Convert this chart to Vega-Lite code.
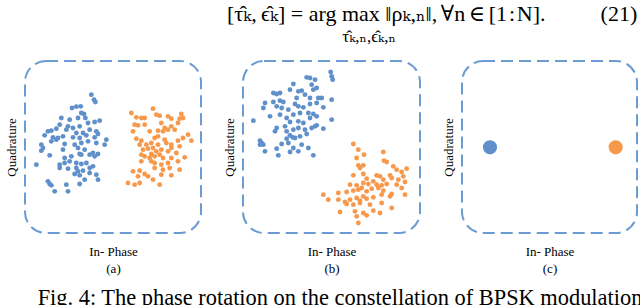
{
  "$schema": "https://vega.github.io/schema/vega-lite/v6.json",
  "padding": {"left": 4, "top": 3, "right": 0, "bottom": 0},
  "background": "#ffffff",
  "config": {
    "font": "Liberation Serif",
    "view": {"stroke": "#6a9bd3", "strokeWidth": 2, "strokeDash": [12, 6], "cornerRadius": 21, "fill": null},
    "axis": {"domain": false, "ticks": false, "labels": false, "grid": false, "titleFont": "Liberation Serif", "titleFontSize": 13, "titleFontWeight": "normal", "titleColor": "#000000", "titleLineHeight": 17},
    "axisX": {"titlePadding": 12},
    "axisY": {"titlePadding": 7},
    "concat": {"spacing": 20}
  },
  "title": {
    "text": "[τ\u0302\u2096,\u2009ϵ\u0302\u2096] = arg max \u2016ρ\u2096,\u2099\u2016,\u2006\u2200n\u2006\u2208\u2006[1\u200a:\u200aN].\u2003\u2003\u2002(21)",
    "subtitle": "\u200b\u2003\u2003\u2003\u2003\u2003\u2003\u2002\u2009\u200aτ\u0302\u2096,\u2099,ϵ\u0302\u2096,\u2099",
    "anchor": "start",
    "frame": "group",
    "dx": 202,
    "offset": 14,
    "font": "Liberation Serif, DejaVu Serif",
    "fontSize": 22,
    "fontWeight": "normal",
    "color": "#000000",
    "subtitleFont": "Liberation Serif, DejaVu Serif",
    "subtitleFontSize": 17,
    "subtitleColor": "#000000",
    "subtitlePadding": 3
  },
  "datasets": {
    "a": [
      {"sym":"-1","i":280,"q":460},{"sym":"-1","i":288,"q":445},{"sym":"-1","i":292,"q":438},
      {"sym":"-1","i":222,"q":420},{"sym":"-1","i":235,"q":424},{"sym":"-1","i":248,"q":425},
      {"sym":"-1","i":250,"q":405},{"sym":"-1","i":258,"q":402},{"sym":"-1","i":262,"q":390},
      {"sym":"-1","i":190,"q":390},{"sym":"-1","i":215,"q":385},{"sym":"-1","i":240,"q":390},
      {"sym":"-1","i":185,"q":370},{"sym":"-1","i":210,"q":365},{"sym":"-1","i":225,"q":360},{"sym":"-1","i":245,"q":365},{"sym":"-1","i":270,"q":375},{"sym":"-1","i":290,"q":378},{"sym":"-1","i":305,"q":382},
      {"sym":"-1","i":150,"q":350},{"sym":"-1","i":160,"q":352},{"sym":"-1","i":175,"q":358},{"sym":"-1","i":205,"q":355},{"sym":"-1","i":235,"q":345},{"sym":"-1","i":255,"q":345},{"sym":"-1","i":275,"q":355},{"sym":"-1","i":295,"q":350},{"sym":"-1","i":300,"q":342},
      {"sym":"-1","i":140,"q":338},{"sym":"-1","i":165,"q":332},{"sym":"-1","i":180,"q":330},{"sym":"-1","i":195,"q":335},{"sym":"-1","i":225,"q":332},{"sym":"-1","i":245,"q":330},{"sym":"-1","i":265,"q":338},{"sym":"-1","i":290,"q":332},{"sym":"-1","i":325,"q":325},
      {"sym":"-1","i":130,"q":310},{"sym":"-1","i":135,"q":300},{"sym":"-1","i":160,"q":320},{"sym":"-1","i":175,"q":325},{"sym":"-1","i":200,"q":312},{"sym":"-1","i":230,"q":310},{"sym":"-1","i":250,"q":315},{"sym":"-1","i":270,"q":320},{"sym":"-1","i":295,"q":315},{"sym":"-1","i":320,"q":310},
      {"sym":"-1","i":130,"q":292},{"sym":"-1","i":195,"q":295},{"sym":"-1","i":240,"q":300},{"sym":"-1","i":260,"q":295},{"sym":"-1","i":285,"q":285},{"sym":"-1","i":300,"q":282},{"sym":"-1","i":245,"q":282},
      {"sym":"-1","i":155,"q":278},{"sym":"-1","i":200,"q":270},{"sym":"-1","i":220,"q":275},{"sym":"-1","i":250,"q":280},{"sym":"-1","i":275,"q":280},{"sym":"-1","i":290,"q":275},
      {"sym":"-1","i":115,"q":250},{"sym":"-1","i":185,"q":250},{"sym":"-1","i":200,"q":255},{"sym":"-1","i":215,"q":260},{"sym":"-1","i":235,"q":255},{"sym":"-1","i":250,"q":252},{"sym":"-1","i":265,"q":255},{"sym":"-1","i":285,"q":245},
      {"sym":"-1","i":185,"q":240},{"sym":"-1","i":210,"q":238},{"sym":"-1","i":235,"q":240},{"sym":"-1","i":240,"q":230},{"sym":"-1","i":255,"q":232},{"sym":"-1","i":275,"q":240},
      {"sym":"-1","i":230,"q":222},{"sym":"-1","i":245,"q":218},{"sym":"-1","i":275,"q":225},{"sym":"-1","i":295,"q":220},
      {"sym":"-1","i":150,"q":200},{"sym":"-1","i":155,"q":192},{"sym":"-1","i":160,"q":188},{"sym":"-1","i":205,"q":190},{"sym":"-1","i":245,"q":192},{"sym":"-1","i":260,"q":205},{"sym":"-1","i":300,"q":205},
      {"sym":"-1","i":170,"q":170},{"sym":"-1","i":210,"q":170},
      {"sym":"+1","i":400,"q":405},{"sym":"+1","i":415,"q":392},{"sym":"+1","i":430,"q":390},{"sym":"+1","i":440,"q":390},{"sym":"+1","i":465,"q":418},{"sym":"+1","i":475,"q":400},{"sym":"+1","i":485,"q":397},{"sym":"+1","i":510,"q":395},{"sym":"+1","i":520,"q":388},{"sym":"+1","i":545,"q":388},{"sym":"+1","i":550,"q":402},{"sym":"+1","i":555,"q":390},
      {"sym":"+1","i":410,"q":370},{"sym":"+1","i":420,"q":368},{"sym":"+1","i":440,"q":370},{"sym":"+1","i":490,"q":375},{"sym":"+1","i":500,"q":360},{"sym":"+1","i":520,"q":365},{"sym":"+1","i":540,"q":375},
      {"sym":"+1","i":405,"q":350},{"sym":"+1","i":455,"q":350},{"sym":"+1","i":480,"q":352},{"sym":"+1","i":495,"q":350},{"sym":"+1","i":510,"q":355},{"sym":"+1","i":530,"q":355},{"sym":"+1","i":570,"q":340},
      {"sym":"+1","i":415,"q":328},{"sym":"+1","i":430,"q":322},{"sym":"+1","i":470,"q":330},{"sym":"+1","i":480,"q":335},{"sym":"+1","i":500,"q":325},{"sym":"+1","i":540,"q":322},{"sym":"+1","i":555,"q":330},{"sym":"+1","i":580,"q":322},
      {"sym":"+1","i":425,"q":310},{"sym":"+1","i":445,"q":310},{"sym":"+1","i":460,"q":315},{"sym":"+1","i":480,"q":310},{"sym":"+1","i":505,"q":315},{"sym":"+1","i":520,"q":310},{"sym":"+1","i":545,"q":305},
      {"sym":"+1","i":435,"q":295},{"sym":"+1","i":450,"q":298},{"sym":"+1","i":465,"q":300},{"sym":"+1","i":475,"q":290},{"sym":"+1","i":490,"q":295},{"sym":"+1","i":510,"q":290},{"sym":"+1","i":520,"q":300},{"sym":"+1","i":535,"q":285},
      {"sym":"+1","i":430,"q":280},{"sym":"+1","i":440,"q":275},{"sym":"+1","i":455,"q":270},{"sym":"+1","i":460,"q":282},{"sym":"+1","i":470,"q":275},{"sym":"+1","i":485,"q":280},{"sym":"+1","i":495,"q":270},{"sym":"+1","i":520,"q":270},{"sym":"+1","i":560,"q":272},
      {"sym":"+1","i":430,"q":260},{"sym":"+1","i":460,"q":260},{"sym":"+1","i":470,"q":255},{"sym":"+1","i":490,"q":250},{"sym":"+1","i":510,"q":255},{"sym":"+1","i":540,"q":260},
      {"sym":"+1","i":405,"q":230},{"sym":"+1","i":425,"q":232},{"sym":"+1","i":440,"q":222},{"sym":"+1","i":470,"q":240},{"sym":"+1","i":495,"q":235},{"sym":"+1","i":515,"q":240},{"sym":"+1","i":545,"q":235},
      {"sym":"+1","i":420,"q":215},{"sym":"+1","i":450,"q":215},{"sym":"+1","i":490,"q":220},{"sym":"+1","i":520,"q":218},
      {"sym":"+1","i":390,"q":195},{"sym":"+1","i":410,"q":190},{"sym":"+1","i":425,"q":195},{"sym":"+1","i":465,"q":205},{"sym":"+1","i":485,"q":190}
    ],
    "b": [
      {"sym":"-1","i":362,"q":528},{"sym":"-1","i":365,"q":515},{"sym":"-1","i":368,"q":505},
      {"sym":"-1","i":290,"q":512},{"sym":"-1","i":300,"q":510},{"sym":"-1","i":315,"q":505},
      {"sym":"-1","i":250,"q":492},{"sym":"-1","i":305,"q":490},{"sym":"-1","i":310,"q":475},{"sym":"-1","i":320,"q":480},
      {"sym":"-1","i":190,"q":465},{"sym":"-1","i":200,"q":462},{"sym":"-1","i":210,"q":465},{"sym":"-1","i":240,"q":475},{"sym":"-1","i":265,"q":470},{"sym":"-1","i":275,"q":472},
      {"sym":"-1","i":165,"q":435},{"sym":"-1","i":190,"q":438},{"sym":"-1","i":210,"q":442},{"sym":"-1","i":220,"q":438},{"sym":"-1","i":260,"q":450},{"sym":"-1","i":285,"q":460},{"sym":"-1","i":300,"q":450},{"sym":"-1","i":325,"q":450},{"sym":"-1","i":335,"q":450},{"sym":"-1","i":365,"q":445},
      {"sym":"-1","i":160,"q":420},{"sym":"-1","i":200,"q":425},{"sym":"-1","i":215,"q":420},{"sym":"-1","i":235,"q":415},{"sym":"-1","i":255,"q":432},{"sym":"-1","i":265,"q":425},{"sym":"-1","i":280,"q":422},{"sym":"-1","i":300,"q":432},{"sym":"-1","i":320,"q":435},{"sym":"-1","i":340,"q":422},
      {"sym":"-1","i":180,"q":395},{"sym":"-1","i":210,"q":400},{"sym":"-1","i":230,"q":390},{"sym":"-1","i":250,"q":400},{"sym":"-1","i":270,"q":405},{"sym":"-1","i":295,"q":405},{"sym":"-1","i":310,"q":402},{"sym":"-1","i":320,"q":395},
      {"sym":"-1","i":130,"q":382},{"sym":"-1","i":200,"q":360},{"sym":"-1","i":225,"q":365},{"sym":"-1","i":240,"q":378},{"sym":"-1","i":265,"q":380},{"sym":"-1","i":280,"q":375},{"sym":"-1","i":300,"q":390},{"sym":"-1","i":320,"q":368},{"sym":"-1","i":365,"q":385},
      {"sym":"-1","i":195,"q":350},{"sym":"-1","i":230,"q":350},{"sym":"-1","i":250,"q":355},{"sym":"-1","i":265,"q":360},{"sym":"-1","i":285,"q":355},{"sym":"-1","i":305,"q":360},{"sym":"-1","i":315,"q":365},{"sym":"-1","i":340,"q":358},
      {"sym":"-1","i":240,"q":338},{"sym":"-1","i":248,"q":332},{"sym":"-1","i":255,"q":330},{"sym":"-1","i":230,"q":328},{"sym":"-1","i":270,"q":335},{"sym":"-1","i":290,"q":342},
      {"sym":"-1","i":150,"q":322},{"sym":"-1","i":155,"q":315},{"sym":"-1","i":150,"q":310},{"sym":"-1","i":160,"q":310},{"sym":"-1","i":215,"q":312},{"sym":"-1","i":235,"q":315},{"sym":"-1","i":250,"q":300},{"sym":"-1","i":275,"q":310},
      {"sym":"-1","i":165,"q":290},{"sym":"-1","i":200,"q":298},{"sym":"-1","i":240,"q":288},{"sym":"-1","i":265,"q":290},{"sym":"-1","i":295,"q":300},
      {"sym":"-1","i":205,"q":278},{"sym":"-1","i":310,"q":278},
      {"sym":"+1","i":430,"q":312},{"sym":"+1","i":445,"q":295},{"sym":"+1","i":462,"q":280},{"sym":"+1","i":440,"q":270},{"sym":"+1","i":520,"q":288},{"sym":"+1","i":522,"q":262},{"sym":"+1","i":530,"q":258},
      {"sym":"+1","i":445,"q":248},{"sym":"+1","i":450,"q":240},{"sym":"+1","i":460,"q":248},
      {"sym":"+1","i":430,"q":218},{"sym":"+1","i":460,"q":222},{"sym":"+1","i":500,"q":218},{"sym":"+1","i":510,"q":215},{"sym":"+1","i":540,"q":218},{"sym":"+1","i":550,"q":245},{"sym":"+1","i":560,"q":235},{"sym":"+1","i":575,"q":228},{"sym":"+1","i":590,"q":238},{"sym":"+1","i":580,"q":215},
      {"sym":"+1","i":470,"q":208},{"sym":"+1","i":520,"q":205},{"sym":"+1","i":545,"q":210},{"sym":"+1","i":565,"q":205},{"sym":"+1","i":585,"q":198},
      {"sym":"+1","i":420,"q":190},{"sym":"+1","i":440,"q":188},{"sym":"+1","i":460,"q":195},{"sym":"+1","i":475,"q":192},{"sym":"+1","i":490,"q":200},{"sym":"+1","i":500,"q":190},{"sym":"+1","i":515,"q":188},{"sym":"+1","i":530,"q":192},{"sym":"+1","i":560,"q":190},{"sym":"+1","i":575,"q":180},
      {"sym":"+1","i":385,"q":165},{"sym":"+1","i":410,"q":168},{"sym":"+1","i":430,"q":172},{"sym":"+1","i":445,"q":175},{"sym":"+1","i":455,"q":180},{"sym":"+1","i":470,"q":170},{"sym":"+1","i":485,"q":178},{"sym":"+1","i":505,"q":180},{"sym":"+1","i":520,"q":172},{"sym":"+1","i":545,"q":162},{"sym":"+1","i":585,"q":160},
      {"sym":"+1","i":340,"q":160},{"sym":"+1","i":355,"q":145},{"sym":"+1","i":385,"q":145},{"sym":"+1","i":405,"q":138},{"sym":"+1","i":420,"q":145},{"sym":"+1","i":440,"q":150},{"sym":"+1","i":450,"q":142},{"sym":"+1","i":460,"q":155},{"sym":"+1","i":470,"q":148},{"sym":"+1","i":490,"q":152},{"sym":"+1","i":515,"q":160},{"sym":"+1","i":540,"q":155},
      {"sym":"+1","i":410,"q":132},{"sym":"+1","i":430,"q":130},{"sym":"+1","i":450,"q":135},{"sym":"+1","i":480,"q":130},{"sym":"+1","i":515,"q":135},{"sym":"+1","i":545,"q":120},
      {"sym":"+1","i":390,"q":108},{"sym":"+1","i":435,"q":110},{"sym":"+1","i":460,"q":105},{"sym":"+1","i":490,"q":112},{"sym":"+1","i":510,"q":105},
      {"sym":"+1","i":440,"q":95},{"sym":"+1","i":470,"q":98},{"sym":"+1","i":445,"q":75}
    ],
    "c": [
      {"sym":"-1","i":198,"q":302},
      {"sym":"+1","i":575,"q":302}
    ]
  },
  "vconcat": [
    {
      "hconcat": [
        {
          "width": 176, "height": 172,
          "data": {"name": "a"},
          "mark": {"type": "circle", "size": 24, "opacity": 1},
          "encoding": {
            "x": {"field": "i", "type": "quantitative", "scale": {"domain": [81, 609], "nice": false, "zero": false}, "axis": {"title": ["In- Phase", "(a)"]}},
            "y": {"field": "q", "type": "quantitative", "scale": {"domain": [45, 561], "nice": false, "zero": false}, "axis": {"title": "Quadrature"}},
            "color": {"field": "sym", "type": "nominal", "scale": {"domain": ["-1", "+1"], "range": ["#6090ca", "#f7994c"]}, "legend": null}
          }
        },
        {
          "width": 177, "height": 172,
          "data": {"name": "b"},
          "mark": {"type": "circle", "size": 24, "opacity": 1},
          "encoding": {
            "x": {"field": "i", "type": "quantitative", "scale": {"domain": [99, 630], "nice": false, "zero": false}, "axis": {"title": ["In- Phase", "(b)"]}},
            "y": {"field": "q", "type": "quantitative", "scale": {"domain": [45, 561], "nice": false, "zero": false}, "axis": {"title": "Quadrature"}},
            "color": {"field": "sym", "type": "nominal", "scale": {"domain": ["-1", "+1"], "range": ["#6090ca", "#f7994c"]}, "legend": null}
          }
        },
        {
          "width": 175, "height": 172,
          "data": {"name": "c"},
          "mark": {"type": "circle", "size": 200, "opacity": 1},
          "encoding": {
            "x": {"field": "i", "type": "quantitative", "scale": {"domain": [114, 639], "nice": false, "zero": false}, "axis": {"title": ["In- Phase", "(c)"]}},
            "y": {"field": "q", "type": "quantitative", "scale": {"domain": [45, 561], "nice": false, "zero": false}, "axis": {"title": "Quadrature"}},
            "color": {"field": "sym", "type": "nominal", "scale": {"domain": ["-1", "+1"], "range": ["#6090ca", "#f7994c"]}, "legend": null}
          }
        }
      ]
    },
    {
      "width": 630, "height": 20,
      "view": {"stroke": null},
      "data": {"values": [{"caption": "Fig. 4: The phase rotation on the constellation of BPSK modulation"}]},
      "mark": {"type": "text", "font": "Liberation Serif", "fontSize": 22.4, "color": "#000000", "baseline": "middle"},
      "encoding": {"text": {"field": "caption"}}
    }
  ],
  "spacing": 11
}
